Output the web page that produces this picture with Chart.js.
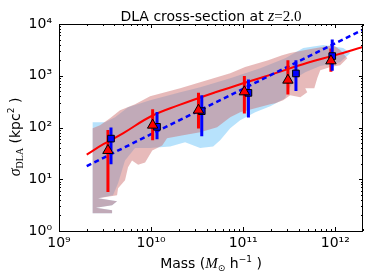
<!DOCTYPE html>
<html>
<head>
<meta charset="utf-8">
<script src="https://cdn.jsdelivr.net/npm/chart.js@4"></script>
<style>
html, body { margin: 0; padding: 0; background: #fff; }
#wrap { width: 374px; height: 280px; }
</style>
</head>
<body>
<div id="wrap"><canvas id="chart" width="374" height="280"></canvas></div>
<script>
// red triangles: binned cross-section with 1 sigma range
var triMass = [3.4e9, 1.04e10, 3.27e10, 1.03e11, 3.06e11, 8.97e11];
var triSigma = [36, 111, 216, 489, 822, 1940];
var triLow = [5.7, 57, 96, 187, 436, 1190];
var triHigh = [89, 226, 468, 985, 2000, 3370];

// blue squares
var sqMass = [3.67e9, 1.16e10, 3.55e10, 1.14e11, 3.74e11, 9.27e11];
var sqSigma = [61, 103, 207, 467, 1108, 2400];
var sqLow = [19.5, 59, 68, 156, 510, 1245];
var sqHigh = [100, 200, 421, 850, 2000, 5030];

// red solid fit
var fitMass = [2e9, 3e9, 5e9, 1e10, 2e10, 5e10, 1e11, 2e11, 5e11, 1e12, 2e12];
var fitSigma = [30, 47, 78, 165, 270, 480, 715, 1050, 1780, 2500, 3620];

// blue dashed power law
var powMass = [2e9, 2e12];
var powSigma = [18, 7800];

// outline of the pink distribution
var pinkMass = [2.32e9, 2.79e9, 3.58e9, 4.6e9, 6.7e9, 9.75e9, 1.42e10, 2.07e10, 3.41e10, 7.23e10, 1.05e11, 1.87e11, 2.65e11, 3.24e11, 4.72e11, 9.51e11, 1.13e12, 1.35e12,
  1.13e12, 8.83e11, 6.87e11, 6.37e11, 5.92e11, 4.72e11, 4.96e11, 4.17e11, 3.24e11, 2.72e11, 2.23e11, 1.97e11,
  1.35e11, 9.27e10, 7.23e10, 5.21e10, 3.41e10, 2.23e10, 1.49e10, 1.32e10, 1.03e10, 8.61e9, 7.23e9, 6.21e9, 5.62e9, 5.21e9, 4.38e9, 4.27e9,
  2.66e9, 4.27e9, 3.77e9, 2.52e9, 3.77e9, 3.77e9, 2.32e9, 2.32e9];
var pinkSigma = [97, 111, 151, 216, 282, 403, 482, 575, 752, 1120, 1470, 2000, 2500, 2740, 3130, 3910, 3130, 2190,
  1600, 1470, 1280, 899, 575, 575, 482, 386, 421, 337, 295, 282,
  236, 198, 158, 101, 81, 71, 62, 45, 36, 21, 19, 23, 17, 9.6, 6.7, 4.9,
  4.3, 3.75, 3.14, 2.81, 2.51, 2.2, 2.2, 97];

// outline of the light blue distribution
var blueMass = [2.32e9, 3.16e9, 4.06e9, 5.62e9, 9.75e9, 2.07e10, 3.41e10, 7.23e10, 1.53e11, 2.86e11, 4.49e11, 7.41e11, 1.22e12, 1.46e12,
  1.13e12, 6.87e11, 4.72e11, 3.68e11, 3.0e11, 2.86e11, 1.97e11, 1.35e11, 9.27e10, 7.23e10, 5.62e10, 4.72e10, 3.41e10, 2.34e10, 1.61e10, 9.75e9, 6.7e9, 5.21e9, 4.38e9, 3.86e9,
  2.66e9, 4.27e9, 3.77e9, 2.52e9, 3.77e9, 3.77e9, 2.32e9, 2.32e9];
var blueSigma = [127, 127, 158, 247, 337, 482, 602, 899, 1400, 2190, 3420, 3910, 3420, 2740,
  1830, 1535, 1175, 899, 482, 369, 258, 198, 138, 97, 57, 43, 40, 52, 43, 40, 40, 23, 8.4, 4.9,
  4.3, 3.75, 3.14, 2.81, 2.51, 2.2, 2.2, 127];

var xTicks = [1e9, 1e10, 1e11, 1e12];
var xTickLabels = ['10\u2079', '10\u00b9\u2070', '10\u00b9\u00b9', '10\u00b9\u00b2'];
var yTicks = [1, 10, 100, 1000, 10000];
var yTickLabels = ['10\u2070', '10\u00b9', '10\u00b2', '10\u00b3', '10\u2074'];

function pts(xs, ys) {
  return xs.map(function(x, i) { return {x: x, y: ys[i]}; });
}
function bars(xs, lo, hi) {
  var out = [];
  for (var i = 0; i < xs.length; i++) {
    out.push({x: xs[i], y: lo[i]}, {x: xs[i], y: hi[i]}, {x: xs[i], y: null});
  }
  return out;
}

var SANS = '"DejaVu Sans", sans-serif';
var SERIF = '"Liberation Serif", serif';

function drawRich(ctx, segs, x, y, rot) {
  ctx.save();
  ctx.translate(x, y);
  if (rot) ctx.rotate(rot);
  var w = 0;
  segs.forEach(function(s) { ctx.font = s.f; w += ctx.measureText(s.t).width; });
  var cx = -w / 2;
  ctx.fillStyle = '#000';
  ctx.textBaseline = 'alphabetic';
  ctx.textAlign = 'left';
  segs.forEach(function(s) {
    ctx.font = s.f;
    ctx.fillText(s.t, cx, s.dy || 0);
    cx += ctx.measureText(s.t).width;
  });
  ctx.restore();
}

var frame = {
  id: 'frame',
  afterDatasetsDraw: function(chart) {
    var ctx = chart.ctx, a = chart.chartArea, xs = chart.scales.x, ys = chart.scales.y;
    ctx.save();
    ctx.strokeStyle = '#000';
    ctx.lineWidth = 1;
    ctx.beginPath();
    var e, m, v, p, len;
    for (e = 9; e <= 12; e++) {
      for (m = 1; m < 10; m++) {
        v = m * Math.pow(10, e);
        if (v > xs.max) break;
        p = Math.round(xs.getPixelForValue(v)) + 0.5;
        len = m === 1 ? 4 : 2;
        ctx.moveTo(p, a.bottom); ctx.lineTo(p, a.bottom - len);
        ctx.moveTo(p, a.top); ctx.lineTo(p, a.top + len);
      }
    }
    for (e = 0; e <= 4; e++) {
      for (m = 1; m < 10; m++) {
        v = m * Math.pow(10, e);
        if (v > ys.max) break;
        p = Math.round(ys.getPixelForValue(v)) + 0.5;
        len = m === 1 ? 4 : 2;
        ctx.moveTo(a.left, p); ctx.lineTo(a.left + len, p);
        ctx.moveTo(a.right, p); ctx.lineTo(a.right - len, p);
      }
    }
    ctx.stroke();
    ctx.strokeRect(Math.round(a.left) + 0.5, Math.round(a.top) + 0.5,
      Math.round(a.right - a.left) - 1, Math.round(a.bottom - a.top));
    ctx.restore();

    // title and axis labels
    drawRich(ctx, [
      {t: 'DLA cross-section at ', f: '14px ' + SANS},
      {t: 'z', f: 'italic 16px ' + SERIF},
      {t: '=', f: '15px ' + SERIF},
      {t: '2.0', f: '15px ' + SERIF}
    ], (a.left + a.right) / 2, 21);
    drawRich(ctx, [
      {t: 'Mass (', f: '14px ' + SANS},
      {t: 'M', f: 'italic 15px ' + SERIF},
      {t: '\u2299', f: '9px ' + SANS, dy: 3},
      {t: ' h', f: '14px ' + SANS},
      {t: '\u22121', f: '9px ' + SANS, dy: -6},
      {t: ' )', f: '14px ' + SANS}
    ], (a.left + a.right) / 2, 268);
    drawRich(ctx, [
      {t: '\u03c3', f: 'italic 16px ' + SERIF},
      {t: 'DLA', f: '10px ' + SERIF, dy: 3},
      {t: ' (kpc', f: '14px ' + SANS},
      {t: '2', f: '9px ' + SANS, dy: -6},
      {t: ' )', f: '14px ' + SANS}
    ], 20, 137, -Math.PI / 2);
  }
};

var chart = new Chart(document.getElementById('chart'), {
  type: 'line',
  data: {
    datasets: [
      {
        data: pts(blueMass, blueSigma), fill: 'shape', backgroundColor: 'rgba(135,206,250,0.6)',
        borderWidth: 0, pointRadius: 0, tension: 0, order: 10
      },
      {
        data: pts(pinkMass, pinkSigma), fill: 'shape', backgroundColor: 'rgba(205,110,110,0.48)',
        borderWidth: 0, pointRadius: 0, tension: 0, order: 9
      },
      {
        data: pts(fitMass, fitSigma), borderColor: '#ff0000', borderWidth: 2, pointRadius: 0,
        tension: 0.4, fill: false, order: 6
      },
      {
        data: pts(powMass, powSigma), borderColor: '#0000ff', borderWidth: 2.5, borderDash: [5, 3.5],
        pointRadius: 0, fill: false, order: 5
      },
      {
        data: bars(triMass, triLow, triHigh), borderColor: '#ff0000', borderWidth: 3, pointRadius: 0,
        spanGaps: false, fill: false, order: 4
      },
      {
        data: bars(sqMass, sqLow, sqHigh), borderColor: '#0000ff', borderWidth: 3, pointRadius: 0,
        spanGaps: false, fill: false, order: 3
      },
      {
        data: pts(sqMass, sqSigma), showLine: false, pointStyle: 'rect', pointRadius: 4.7,
        backgroundColor: '#0000ff', borderColor: '#000', borderWidth: 1, order: 2
      },
      {
        data: pts(triMass, triSigma), showLine: false, pointStyle: 'triangle', pointRadius: 6,
        backgroundColor: '#ff0000', borderColor: '#000', borderWidth: 1, order: 1
      }
    ]
  },
  options: {
    responsive: false,
    animation: false,
    devicePixelRatio: 1,
    events: [],
    layout: { padding: { left: 0, top: 24, right: 11, bottom: 0 } },
    plugins: { legend: { display: false }, tooltip: { enabled: false }, title: { display: false } },
    scales: {
      x: {
        type: 'logarithmic', min: 1e9, max: 2e12,
        grid: { display: false, drawTicks: false }, border: { display: false },
        afterBuildTicks: function(s) { s.ticks = xTicks.map(function(v) { return {value: v}; }); },
        afterFit: function(s) { s.height = 49; },
        ticks: {
          autoSkip: false, maxRotation: 0, padding: 4, color: '#000',
          font: { family: 'DejaVu Sans', size: 14 },
          callback: function(v) { var i = xTicks.indexOf(v); return i < 0 ? '' : xTickLabels[i]; }
        }
      },
      y: {
        type: 'logarithmic', min: 1, max: 10000,
        grid: { display: false, drawTicks: false }, border: { display: false },
        afterBuildTicks: function(s) { s.ticks = yTicks.map(function(v) { return {value: v}; }); },
        afterFit: function(s) { s.width = 59; },
        ticks: {
          autoSkip: false, padding: 7, color: '#000',
          font: { family: 'DejaVu Sans', size: 14 },
          callback: function(v) { var i = yTicks.indexOf(v); return i < 0 ? '' : yTickLabels[i]; }
        }
      }
    }
  },
  plugins: [frame]
});
</script>
</body>
</html>
